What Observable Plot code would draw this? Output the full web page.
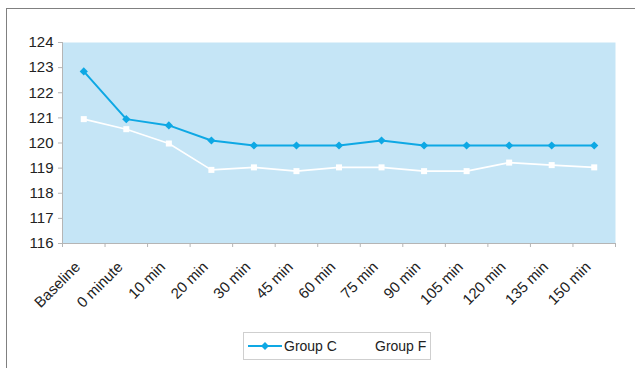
<!DOCTYPE html>
<html>
<head>
<meta charset="utf-8">
<script src="https://cdn.jsdelivr.net/npm/d3@7"></script>
<script src="https://cdn.jsdelivr.net/npm/@observablehq/plot@0.6"></script>
<style>
  html, body { margin: 0; padding: 0; background: #fff; }
  #wrap { position: relative; width: 635px; height: 368px; overflow: hidden; font-family: "Liberation Sans", Arial, sans-serif; }
  #frame { position: absolute; left: 6px; top: 8px; width: 700px; height: 400px; border-left: 1.5px solid #808080; border-top: 1.5px solid #808080; }
  #chart { position: absolute; left: 0; top: 0; }
  #legend { position: absolute; left: 243px; top: 332px; width: 188px; height: 28px; border: 1px solid #cfcfcf; box-sizing: border-box; background: #fff; }
  #legend .item { position: absolute; top: 0; height: 26px; display: flex; align-items: center; font-size: 14px; color: #222; white-space: nowrap; }
  #legend svg { display: block; }
</style>
</head>
<body>
<div id="wrap">
  <div id="frame"></div>
  <div id="chart"></div>
  <div id="legend"></div>
</div>
<script>
const categories = ["Baseline","0 minute","10 min","20 min","30 min","45 min","60 min","75 min","90 min","105 min","120 min","135 min","150 min"];
const groupC = [122.85,120.95,120.7,120.1,119.9,119.9,119.9,120.1,119.9,119.9,119.9,119.9,119.9];
const groupF = [120.95,120.55,119.98,118.93,119.03,118.88,119.03,119.03,118.88,118.88,119.22,119.12,119.03];
const yTicks = [116,117,118,119,120,121,122,123,124];
const seriesNames = ["Group C","Group F"];
const colorC = "#0ea8e4";
const colorF = "#ffffff";
const bg = "#c5e5f6";

const dataC = categories.map((c, i) => ({i, cat: c, v: groupC[i]}));
const dataF = categories.map((c, i) => ({i, cat: c, v: groupF[i]}));
const boundaries = d3.range(categories.length + 1);
const centers = d3.range(categories.length).map(i => i + 0.5);

const chart = Plot.plot({
  width: 635,
  height: 328,
  marginLeft: 62,
  marginRight: 20,
  marginTop: 42,
  marginBottom: 85,
  style: {fontFamily: "Liberation Sans, Arial, sans-serif", background: "transparent", overflow: "visible"},
  x: {type: "linear", domain: [0, categories.length], axis: null},
  y: {domain: [116, 124], axis: null},
  marks: [
    Plot.frame({fill: bg, stroke: null}),
    Plot.ruleX([0], {stroke: "#b5b5b5", strokeWidth: 1}),
    Plot.ruleY([116], {stroke: "#b5b5b5", strokeWidth: 1}),
    Plot.axisY(yTicks, {label: null, tickSize: 4, tickPadding: 5, stroke: "#b5b5b5", fontSize: 15, fill: "#222", tickFormat: d => String(d)}),
    Plot.axisX(boundaries, {label: null, tickSize: 4, stroke: "#b5b5b5", tickFormat: () => ""}),
    Plot.axisX(centers, {label: null, tickSize: 0, tickPadding: 10, tickRotate: -45, fontSize: 15, fill: "#222",
      tickFormat: d => categories[Math.floor(d)], dx: -6, dy: 11}),
    Plot.line(dataF, {x: d => d.i + 0.5, y: "v", stroke: colorF, strokeWidth: 1.6}),
    Plot.dot(dataF, {x: d => d.i + 0.5, y: "v", symbol: "square", r: 3.4, fill: colorF, stroke: null}),
    Plot.line(dataC, {x: d => d.i + 0.5, y: "v", stroke: colorC, strokeWidth: 2}),
    Plot.dot(dataC, {x: d => d.i + 0.5, y: "v", symbol: "diamond2", r: 3.7, fill: colorC, stroke: null})
  ]
});
document.getElementById("chart").appendChild(chart);

// Legend
const legend = d3.select("#legend");
const items = [
  {name: seriesNames[0], color: colorC, sym: d3.symbolDiamond2, size: 40, left: 3},
  {name: seriesNames[1], color: colorF, sym: d3.symbolSquare, size: 30, left: 94}
];
items.forEach(it => {
  const div = legend.append("div").attr("class", "item").style("left", it.left + "px");
  const svg = div.append("svg").attr("width", 36).attr("height", 26);
  svg.append("line").attr("x1", 1).attr("x2", 35).attr("y1", 13).attr("y2", 13)
    .attr("stroke", it.color).attr("stroke-width", 2);
  svg.append("path").attr("d", d3.symbol(it.sym, it.size)()).attr("transform", "translate(18,13)")
    .attr("fill", it.color);
  div.append("span").text(it.name).style("margin-left", "1px");
});
</script>
</body>
</html>
